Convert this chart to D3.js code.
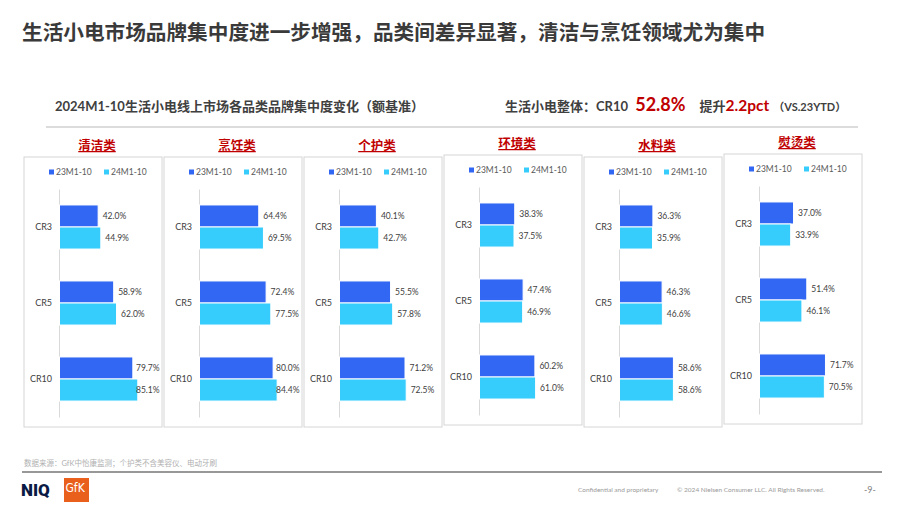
<!DOCTYPE html>
<meta charset="utf-8">
<style>
  body { margin: 0; background: #fff; }
  .page-title { font-family: "Noto Sans CJK SC", sans-serif; font-weight: bold; fill: #3a3a3a; }
  .sub-title { font-family: Lato, "Noto Sans CJK SC", sans-serif; font-weight: bold; fill: #404040; }
  .cat-title { font-family: "Noto Sans CJK SC", sans-serif; font-weight: bold; fill: #c00000; font-size: 12.5px; text-decoration: underline; }
  .legend-label { font-family: Lato, sans-serif; font-size: 8.5px; fill: #595959; }
  .cr-label { font-family: Lato, sans-serif; font-size: 9px; fill: #404040; }
  .val-label { font-family: Lato, sans-serif; font-size: 8.5px; fill: #404040; }
  .foot { font-family: Lato, "Noto Sans CJK SC", sans-serif; fill: #9a9a9a; }
</style>

<script src="https://d3js.org/d3.v7.min.js"></script>

<div id="my_dataviz"></div>

<script>
  // data
  const categories = ["清洁类", "烹饪类", "个护类", "环境类", "水料类", "熨烫类"];
  const crLabels = ["CR3", "CR5", "CR10"];
  const seriesNames = ["23M1-10", "24M1-10"];
  const values23 = [
    [42.0, 58.9, 79.7],
    [64.4, 72.4, 80.0],
    [40.1, 55.5, 71.2],
    [38.3, 47.4, 60.2],
    [36.3, 46.3, 58.6],
    [37.0, 51.4, 71.7]
  ];
  const values24 = [
    [44.9, 62.0, 85.1],
    [69.5, 77.5, 84.4],
    [42.7, 57.8, 72.5],
    [37.5, 46.9, 61.0],
    [35.9, 46.6, 58.6],
    [33.9, 46.1, 70.5]
  ];

  const width = 900, height = 506;
  const colors = ["#3167f3", "#36cdfd"];

  // panel layout
  const panelX0 = 24, panelStep = 140, panelW = 138, panelTop = 157, panelH = 270;
  const panelShift = [0, 0, 0, -2, 0, -3];   // some boxes sit a bit higher in the slide
  const axisOffset = 35;

  const svg = d3.select("#my_dataviz")
    .append("svg")
      .attr("width", width)
      .attr("height", height);

  // page title
  svg.append("text")
    .attr("class", "page-title")
    .attr("x", 22)
    .attr("y", 40)
    .style("font-size", "20.65px")
    .text("生活小电市场品牌集中度进一步增强，品类间差异显著，清洁与烹饪领域尤为集中");

  // sub title left
  svg.append("text")
    .attr("class", "sub-title")
    .attr("x", 55)
    .attr("y", 110.5)
    .style("font-size", "13px")
    .text("2024M1-10生活小电线上市场各品类品牌集中度变化（额基准）");

  // sub title right
  const rt = svg.append("text")
    .attr("class", "sub-title")
    .attr("x", 505)
    .attr("y", 110.5)
    .style("font-size", "13px");
  rt.append("tspan").text("生活小电整体：CR10 ");
  rt.append("tspan").attr("dx", 4).style("font-size", "18px").style("fill", "#c00000").text("52.8%");
  rt.append("tspan").attr("dx", 14).text("提升");
  rt.append("tspan").style("font-size", "15.5px").style("fill", "#c00000").text("2.2pct");
  rt.append("tspan").attr("dx", 4).style("font-size", "11px").text("（VS.23YTD）");

  svg.append("line")
    .attr("x1", 46).attr("x2", 858)
    .attr("y1", 127).attr("y2", 127)
    .style("stroke", "#d0d0d0")
    .style("stroke-width", 1.5);

  // scales shared by all panels
  const x = d3.scaleLinear().domain([0, 100]).range([0, 92]);
  const y = d3.scaleBand()
    .domain(crLabels)
    .range([32, 260])
    .paddingInner(0.42)
    .paddingOuter(0.21);
  const ySub = d3.scaleBand()
    .domain(seriesNames)
    .range([0, y.bandwidth()]);

  categories.forEach(function(cat, i) {
    const px = panelX0 + i * panelStep;
    const py = panelTop + panelShift[i];

    // category title
    svg.append("text")
      .attr("class", "cat-title")
      .attr("x", px + panelW / 2 + 4)
      .attr("y", py - 7)
      .attr("text-anchor", "middle")
      .text(cat);

    const g = svg.append("g")
      .attr("transform", `translate(${px}, ${py})`);

    // panel box
    g.append("rect")
      .attr("x", 0).attr("y", 0)
      .attr("width", panelW).attr("height", panelH)
      .style("fill", "#fff")
      .style("stroke", "#d6d6d6")
      .style("stroke-width", 1);

    // legend
    const leg = g.selectAll(".legend")
      .data(seriesNames)
      .enter()
      .append("g")
      .attr("transform", (d, j) => `translate(${25 + j * 55}, 15)`);
    leg.append("rect")
      .attr("x", 0).attr("y", -2.5)
      .attr("width", 5).attr("height", 5)
      .style("fill", (d, j) => colors[j]);
    leg.append("text")
      .attr("class", "legend-label")
      .attr("x", 7)
      .attr("y", 3)
      .text(d => d);

    // axis
    const plot = g.append("g").attr("transform", `translate(${axisOffset}, 0)`);
    plot.append("g")
      .call(d3.axisLeft(y).tickSize(0).tickPadding(7))
      .call(a => a.select(".domain").style("stroke", "#d9d9d9"))
      .call(a => a.selectAll("text").attr("class", "cr-label").attr("font-family", null).attr("font-size", null));

    const rows = crLabels.map((cr, k) => ({ cr: cr, vals: [values23[i][k], values24[i][k]] }));
    const bars = [];
    rows.forEach(r => r.vals.forEach((v, j) => bars.push({ cr: r.cr, s: seriesNames[j], j: j, v: v })));

    plot.selectAll(".bar")
      .data(bars)
      .join("rect")
      .attr("x", 0.5)
      .attr("y", d => y(d.cr) + ySub(d.s))
      .attr("width", d => x(d.v))
      .attr("height", ySub.bandwidth())
      .style("fill", d => colors[d.j])
      .style("stroke", "#fff")
      .style("stroke-width", 1);

    // value labels, kept inside the box like the office chart does
    const maxLabelX = panelW - axisOffset - 26;
    plot.selectAll(".val")
      .data(bars)
      .join("text")
      .attr("class", "val-label")
      .attr("x", d => Math.min(x(d.v) + 5, maxLabelX))
      .attr("y", d => y(d.cr) + ySub(d.s) + ySub.bandwidth() / 2 + 3)
      .text(d => d.v.toFixed(1) + "%");
  });

  // footer
  svg.append("text")
    .attr("class", "foot")
    .attr("x", 24).attr("y", 466)
    .style("font-size", "7.5px")
    .style("fill", "#b0b0b0")
    .text("数据来源：GfK中怡康监测；个护类不含美容仪、电动牙刷");

  svg.append("line")
    .attr("x1", 22).attr("x2", 882)
    .attr("y1", 472).attr("y2", 472)
    .style("stroke", "#767676")
    .style("stroke-width", 1.5);

  svg.append("text")
    .attr("x", 21).attr("y", 496)
    .style("font-family", "Roboto, sans-serif")
    .style("font-weight", 900)
    .style("font-size", "17px")
    .style("fill", "#0a1a45")
    .text("NIQ");

  svg.append("rect")
    .attr("x", 64).attr("y", 478)
    .attr("width", 25).attr("height", 24)
    .style("fill", "#e8601c");
  svg.append("text")
    .attr("x", 65.5).attr("y", 492)
    .style("font-family", "'DejaVu Sans Condensed', sans-serif")
    .style("font-size", "12px")
    .style("fill", "#fff")
    .text("GfK");

  svg.append("text")
    .attr("class", "foot")
    .attr("x", 578).attr("y", 492)
    .style("font-size", "6.5px")
    .text("Confidential and proprietary");
  svg.append("text")
    .attr("class", "foot")
    .attr("x", 677).attr("y", 492)
    .style("font-size", "6.5px")
    .text("© 2024 Nielsen Consumer LLC. All Rights Reserved.");
  svg.append("text")
    .attr("class", "foot")
    .attr("x", 864).attr("y", 493)
    .style("font-size", "9px")
    .style("fill", "#808080")
    .text("-9-");
</script>
